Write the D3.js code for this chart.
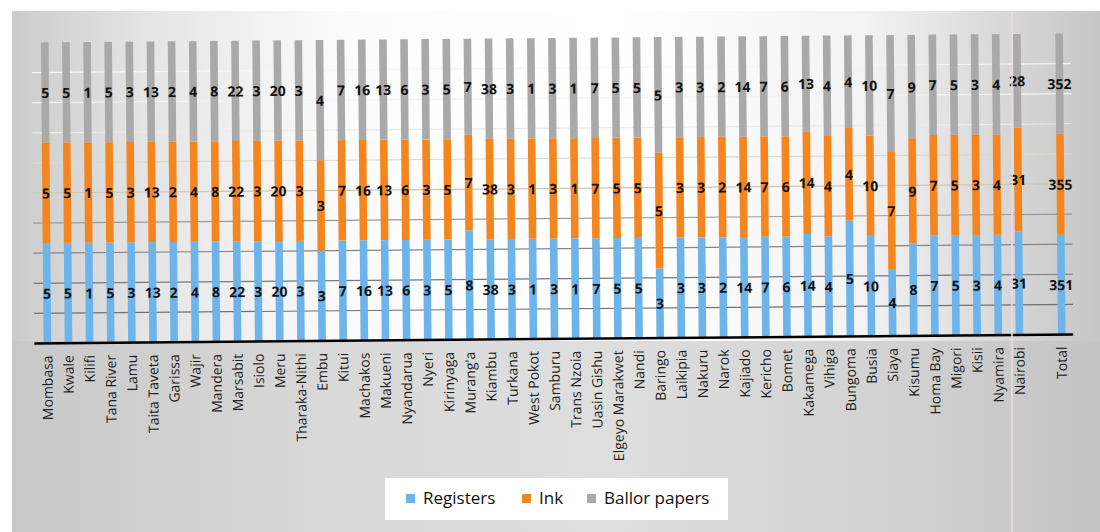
<!DOCTYPE html>
<html><head><meta charset="utf-8">
<script src="https://cdn.jsdelivr.net/npm/d3@7"></script>
<style>body{margin:0;background:#fff}svg{display:block}</style>
</head><body>
<svg id="chart" width="1100" height="532"></svg>
<script>
const categories = ["Mombasa","Kwale","Kilifi","Tana River","Lamu","Taita Taveta","Garissa","Wajir","Mandera","Marsabit","Isiolo","Meru","Tharaka-Nithi","Embu","Kitui","Machakos","Makueni","Nyandarua","Nyeri","Kirinyaga","Murang'a","Kiambu","Turkana","West Pokot","Samburu","Trans Nzoia","Uasin Gishu","Elgeyo Marakwet","Nandi","Baringo","Laikipia","Nakuru","Narok","Kajiado","Kericho","Bomet","Kakamega","Vihiga","Bungoma","Busia","Siaya","Kisumu","Homa Bay","Migori","Kisii","Nyamira","Nairobi","Total"];
const registers = [5,5,1,5,3,13,2,4,8,22,3,20,3,3,7,16,13,6,3,5,8,38,3,1,3,1,7,5,5,3,3,3,2,14,7,6,14,4,5,10,4,8,7,5,3,4,31,351];
const ink       = [5,5,1,5,3,13,2,4,8,22,3,20,3,3,7,16,13,6,3,5,7,38,3,1,3,1,7,5,5,5,3,3,2,14,7,6,14,4,4,10,7,9,7,5,3,4,31,355];
const ballot    = [5,5,1,5,3,13,2,4,8,22,3,20,3,4,7,16,13,6,3,5,7,38,3,1,3,1,7,5,5,5,3,3,2,14,7,6,13,4,4,10,7,9,7,5,3,4,28,352];
const seriesNames = ["Registers","Ink","Ballor papers"];
const yTicks = [0.1,0.2,0.3,0.4,0.5,0.6,0.7,0.8,0.9];

const colors = ["#6db4ea","#f5861f","#a9a9a9"];
const svg = d3.select("#chart");
const W = 1100, H = 532;

const defs = svg.append("defs");
const g1 = defs.append("linearGradient").attr("id","bg").attr("x1","0").attr("x2","1").attr("y1","0").attr("y2","0");
[[0,"#c8c8c8"],[0.3,"#d9d9d9"],[0.55,"#dedede"],[0.8,"#d2d2d2"],[1,"#c4c4c4"]].forEach(s=>g1.append("stop").attr("offset",s[0]).attr("stop-color",s[1]));
const g2 = defs.append("linearGradient").attr("id","plotbg").attr("x1","0").attr("x2","1").attr("y1","0").attr("y2","0");
[[0,"#cbcbcb"],[0.12,"#e4e4e4"],[0.3,"#fbfbfb"],[0.55,"#ffffff"],[0.78,"#f3f3f3"],[0.9,"#dadada"],[1,"#c6c6c6"]].forEach(s=>g2.append("stop").attr("offset",s[0]).attr("stop-color",s[1]));

svg.append("rect").attr("x",12).attr("y",11).attr("width",W-12).attr("height",H-11).attr("fill","url(#bg)");
svg.append("rect").attr("x",12).attr("y",11).attr("width",W-12).attr("height",330).attr("fill","url(#plotbg)");

const domain = categories.slice(0,-1).concat([" ", categories[categories.length-1]]);
const x = d3.scaleBand().domain(domain).range([35.5, 1071]).paddingInner(0.64).paddingOuter(0.32);
const y = d3.scaleLinear().domain([0,1]).range([339, 38]);

const rows = categories.map((c,i)=>({cat:c, "Registers":registers[i], "Ink":ink[i], "Ballor papers":ballot[i]}));
const stacked = d3.stack().keys(seriesNames).offset(d3.stackOffsetExpand)(rows);

const chart = svg.append("g").attr("transform","rotate(-0.5,550,190)");

const gridColors = ["#707070","#787878","#858585","#9a9a9a","#cfc8b4","#ded8c6","#ecebe4","#f4f4f4","#f6f6f6"];
chart.append("g").selectAll("line").data(yTicks).join("line")
  .attr("x1",33).attr("x2",1072)
  .attr("y1",d=>y(d)).attr("y2",d=>y(d))
  .attr("stroke",(d,i)=>gridColors[i]).attr("stroke-width",1.2);

chart.append("g").selectAll("g").data(stacked).join("g")
  .attr("fill",(d,i)=>colors[i])
  .selectAll("rect").data(d=>d).join("rect")
  .attr("x",d=>x(d.data.cat)).attr("width",x.bandwidth())
  .attr("y",d=>y(d[1])).attr("height",d=>y(d[0])-y(d[1]));

chart.append("g").selectAll("g").data(stacked).join("g")
  .selectAll("text").data(s=>s.map(d=>({d, v:d.data[s.key]}))).join("text")
  .attr("x",o=>x(o.d.data.cat)+x.bandwidth()/2)
  .attr("y",o=>(y(o.d[0])+y(o.d[1]))/2)
  .attr("text-anchor","middle").attr("dominant-baseline","central")
  .attr("font-family","'Open Sans', sans-serif").attr("font-weight","bold").attr("font-size",14)
  .attr("fill","#111").text(o=>o.v);

const axis = chart.append("g").attr("transform",`translate(0,${y(0)})`)
  .call(d3.axisBottom(x).tickSize(0).tickSizeOuter(0));
axis.select(".domain").remove();
axis.append("line").attr("x1",33).attr("x2",1072).attr("stroke","#000").attr("stroke-width",2.5);
axis.selectAll(".tick text")
  .attr("transform","rotate(-90)").attr("x",-12).attr("y",0).attr("dy","0.35em")
  .attr("text-anchor","end").attr("font-family","'Open Sans', sans-serif").attr("font-size",14).attr("fill","#1e1e1e");

svg.append("line").attr("x1",1012).attr("x2",1012).attr("y1",11).attr("y2",H)
  .attr("stroke","#eadde2").attr("stroke-width",2).attr("opacity",0.8);

const leg = svg.append("g");
leg.append("rect").attr("x",385).attr("y",478).attr("width",343).attr("height",42).attr("fill","#fff");
const legX = [406, 522, 587];
seriesNames.forEach((n,i)=>{
  leg.append("rect").attr("x",legX[i]).attr("y",494).attr("width",9).attr("height",9).attr("fill",colors[i]);
  leg.append("text").attr("x",legX[i]+17).attr("y",504).attr("font-family","'Open Sans', sans-serif")
    .attr("font-size",17).attr("fill","#111").text(n);
});
</script>
</body></html>
